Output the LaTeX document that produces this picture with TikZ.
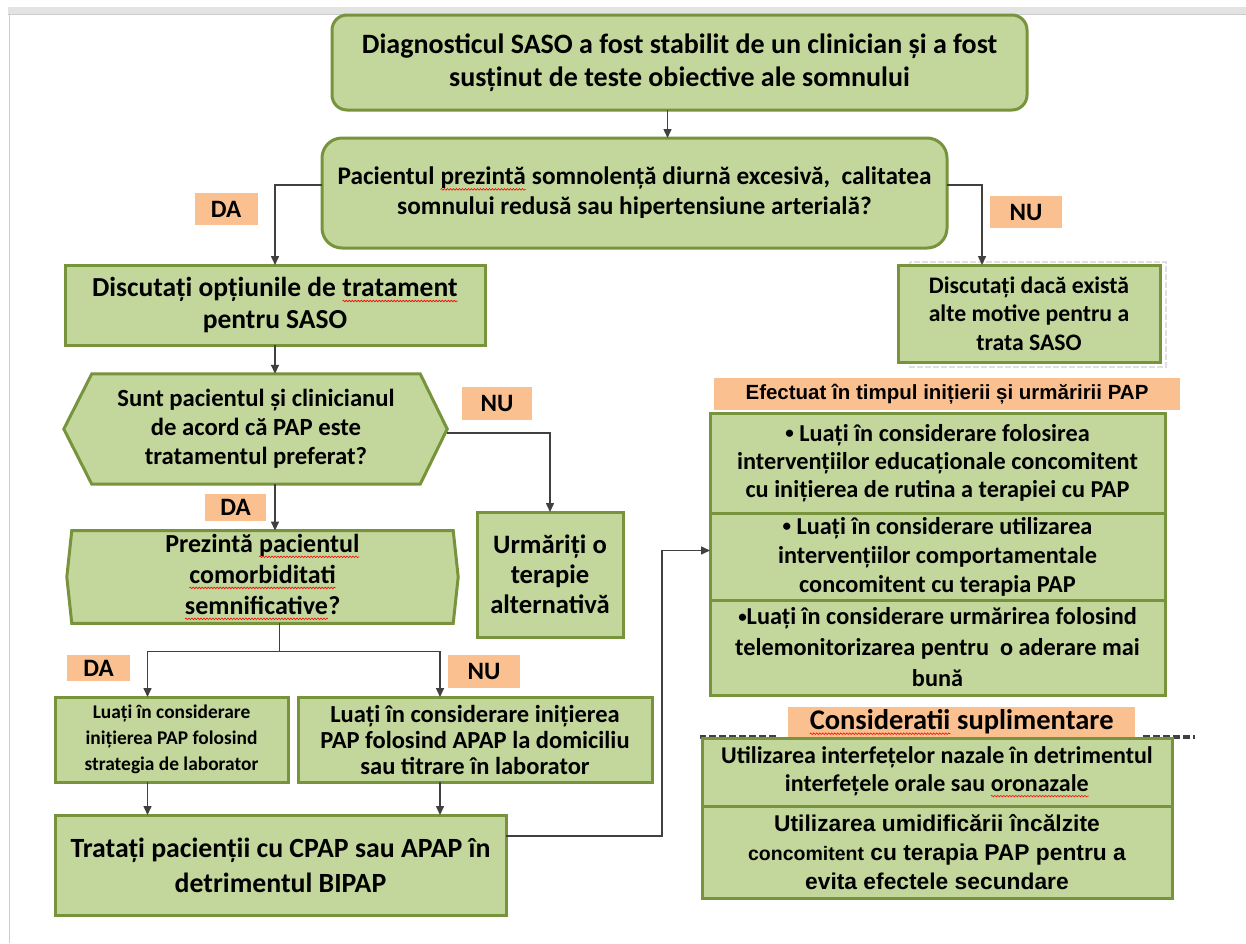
\documentclass[tikz,border=0pt]{standalone}
\usepackage{fontspec}
\setmainfont{Carlito}
\newfontfamily\arialfont{Liberation Sans}
\usepackage{xcolor}
\usetikzlibrary{positioning,arrows.meta,backgrounds,decorations.pathmorphing}

\definecolor{boxgreen}{HTML}{C3D69B}
\definecolor{boxedge}{HTML}{77933C}
\definecolor{tagorange}{HTML}{FAC090}
\definecolor{linegray}{HTML}{404040}

\newcommand\fsz[2]{\fontsize{#1}{#2}\selectfont}
\newcommand\dotmark{\raisebox{2.5pt}{\fontsize{17}{17}\selectfont •}}
% red wavy spelling mark under a word
\newcommand\wavy[1]{\tikz[baseline=(w.base), sharp corners]{%
    \node[draw=none, fill=none, minimum width=0pt, minimum height=0pt, inner sep=0pt, outer sep=0pt] (w) {#1};
    \draw[draw=red, fill=none, line width=0.6pt, decorate, decoration={snake, amplitude=0.8pt, segment length=3pt}]
        ([yshift=-4.5pt]w.base west) -- ([yshift=-4.5pt]w.base east);}}

\tikzset{
  box/.style={draw=boxedge, fill=boxgreen, line width=3pt, align=center, inner sep=2pt, outer sep=0pt},
  rbox/.style={box, rounded corners=18pt},
  hexbox/.style={draw=boxedge, fill=boxgreen, line width=3pt},
  tag/.style={fill=tagorange, inner sep=0pt, font=\fsz{25}{28}\bfseries},
  link/.style={draw=linegray, line width=1.5pt},
  arr/.style={link, -{Triangle[length=9pt,width=8pt]}},
  dashline/.style={draw=black!75, line width=4pt, dash pattern=on 7pt off 3pt},
}

\begin{document}
\begin{tikzpicture}[x=1pt, y=-1pt]
    \useasboundingbox (0,0) rectangle (1246,943);
    % page frame
    \fill[black!11] (8,7) rectangle (1246,14);
    \draw[black!20, line width=1.5pt] (8,14.5) -- (1246,14.5);
    \draw[black!20, line width=1.5pt] (9.5,14) -- (9.5,943);

    % top of the chart
    \node[rbox, rounded corners=15pt, minimum width=695pt, minimum height=95pt, font=\fsz{28}{33}\bfseries] (diag) at (679.5,62.5)
        {Diagnosticul SASO a fost stabilit de un clinician și a fost\\susținut de teste obiective ale somnului};
    \node[rbox, rounded corners=20pt, minimum width=625pt, minimum height=110pt, font=\fsz{25.3}{30}\bfseries] (q1) at (634.5,193)
        {Pacientul \wavy{prezintă} somnolență diurnă excesivă,\ \ calitatea\\somnului redusă sau hipertensiune arterială?};

    \node[box, minimum width=420pt, minimum height=80pt, font=\fsz{27.5}{32}\bfseries] (opt) at (275,305)
        {Discutați opțiunile de \wavy{tratament}\\pentru SASO};
    \draw[black!12, line width=2pt, dash pattern=on 6pt off 2pt] (910,262) rectangle (1166,367);
    \node[box, minimum width=262pt, minimum height=97pt, font=\fsz{23.7}{28.5}\bfseries] (motiv) at (1029,313.5)
        {Discutați dacă există\\alte motive pentru a\\trata SASO};

    % questions
    \node[minimum width=328pt, minimum height=110pt, align=center, font=\fsz{24.7}{29}\bfseries] (pap) at (256,429)
        {Sunt pacientul și clinicianul\\de acord că PAP este\\tratamentul preferat?};
    \node[minimum width=381pt, minimum height=90pt, align=center, font=\fsz{26}{31}\bfseries] (com) at (262.5,577)
        {Prezintă \wavy{pacientul}\\\wavy{comorbiditati}\\\wavy{semnificative}?};
    \begin{scope}[on background layer]
        \draw[hexbox] (pap.north west) -- (pap.north east) -- ([xshift=27pt]pap.east) -- (pap.south east)
            -- (pap.south west) -- ([xshift=-28pt]pap.west) -- cycle;
        \draw[hexbox] (com.north west) -- (com.north east) -- ([xshift=5pt]com.east) -- (com.south east)
            -- (com.south west) -- ([xshift=-5pt]com.west) -- cycle;
    \end{scope}
    \node[box, minimum width=146pt, minimum height=125pt, font=\fsz{26.6}{30}\bfseries] (urm) at (550,574.5)
        {Urmăriți o\\terapie\\alternativă};

    \node[box, minimum width=233pt, minimum height=85pt, font=\fsz{19.4}{26}\bfseries] (lab) at (171.5,739.5)
        {Luați în considerare\\inițierea PAP folosind\\strategia de laborator};
    \node[box, minimum width=354pt, minimum height=85pt, font=\fsz{24.5}{26}\bfseries] (home) at (475,739.5)
        {Luați în considerare inițierea\\PAP folosind APAP la domiciliu\\sau titrare în laborator};
    \node[box, minimum width=451pt, minimum height=100pt, font=\fsz{27.8}{35}\bfseries] (treat) at (280.5,865)
        {Tratați pacienții cu CPAP sau APAP în\\detrimentul BIPAP};

    % right column
    \node[tag, minimum width=466pt, minimum height=32pt, font=\arialfont\fsz{20.5}{22}\bfseries] (efect) at (947,394)
        {Efectuat în timpul inițierii și urmăririi PAP};
    \node[box, minimum width=455pt, minimum height=100pt, font=\fsz{24.3}{28}\bfseries] (c1) at (937.5,463)
        {\dotmark\ Luați în considerare folosirea\\intervențiilor educaționale concomitent\\cu inițierea de rutina a terapiei cu PAP};
    \node[box, minimum width=455pt, minimum height=87pt, font=\fsz{24.3}{29}\bfseries, below=0pt of c1] (c2)
        {\dotmark\ Luați în considerare utilizarea\\intervențiilor comportamentale\\concomitent cu terapia PAP};
    \node[box, minimum width=455pt, minimum height=95pt, font=\fsz{24.3}{31}\bfseries, below=0pt of c2] (c3)
        {\dotmark Luați în considerare urmărirea folosind\\telemonitorizarea pentru\ \ o aderare mai\\bună};

    \node[tag, minimum width=347pt, minimum height=30pt, font=\fsz{28.5}{29}\bfseries] (sup) at (961.5,722)
        {\wavy{Consideratii} suplimentare};
    \draw[dashline] ([xshift=-12pt]sup.south west) -- ++(-76,0);
    \draw[dashline] ([xshift=8pt]sup.south east) -- ++(52,0);
    \node[box, minimum width=470pt, minimum height=68pt, font=\fsz{24}{28}\bfseries] (d1) at (937,772)
        {Utilizarea interfețelor nazale în detrimentul\\interfețele orale sau \wavy{oronazale}};
    \node[box, minimum width=470pt, minimum height=92pt, font=\arialfont\fsz{22.8}{29}\bfseries, below=0pt of d1] (d2)
        {Utilizarea umidificării încălzite\\{\fsz{19.5}{29}concomitent} cu terapia PAP pentru a\\evita efectele secundare};

    % answers
    \node[tag, minimum width=63pt, minimum height=32pt] (da1) at (226,209) {DA};
    \node[tag, minimum width=72pt, minimum height=32pt] (nu1) at (1026,212) {NU};
    \node[tag, minimum width=70pt, minimum height=33pt] (nu2) at (497,403.5) {NU};
    \node[tag, minimum width=61pt, minimum height=27pt] (da2) at (235.5,507.5) {DA};
    \node[tag, minimum width=63pt, minimum height=26pt] (da3) at (98.5,668) {DA};
    \node[tag, minimum width=72pt, minimum height=33pt] (nu3) at (484,671.5) {NU};

    % connectors
    \draw[arr] ([xshift=-12pt]diag.south) -- ([xshift=-12pt]diag.south |- q1.north);
    \draw[arr] ([yshift=8pt]q1.west) -| (opt.north);
    \draw[arr] ([yshift=8pt]q1.east) -| ([xshift=-47pt]motiv.north);
    \draw[arr] (opt.south) -- (opt.south |- pap.north);
    \draw[arr] ([xshift=27pt,yshift=-4pt]pap.east) -| (urm.north);
    \draw[arr] ([xshift=19pt]pap.south) -- ([xshift=19pt]pap.south |- com.north);
    \draw[link] ([xshift=17pt]com.south) -- ++(0,28) coordinate (fork);
    \draw[arr] (fork) -| ([xshift=-24pt]lab.north);
    \draw[arr] (fork) -| ([xshift=-35pt]home.north);
    \draw[arr] ([xshift=-24pt]lab.south) -- ([xshift=-24pt]lab.south |- treat.north);
    \draw[arr] ([xshift=-35pt]home.south) -- ([xshift=-35pt]home.south |- treat.north);
    \draw[arr] ([yshift=29pt]treat.east) -- ++(156,0) |- ([yshift=6pt]c2.west);
\end{tikzpicture}
\end{document}
